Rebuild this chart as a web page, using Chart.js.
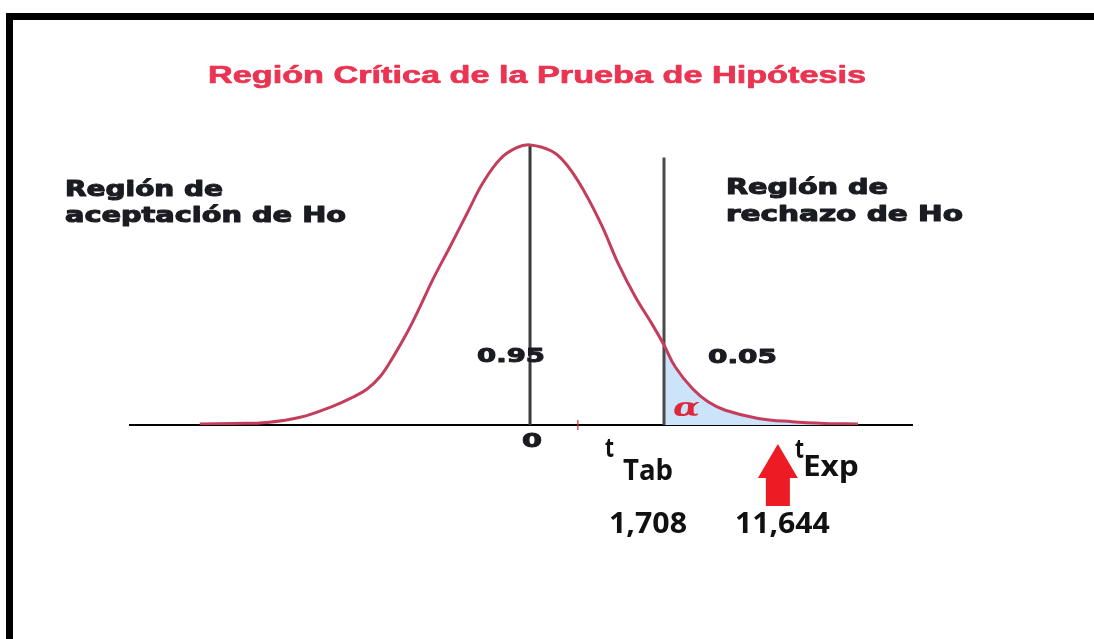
<!DOCTYPE html>
<html>
<head>
<meta charset="utf-8">
<script src="https://cdn.jsdelivr.net/npm/chart.js@4.4.1/dist/chart.umd.min.js"></script>
<style>
  html, body { margin: 0; padding: 0; background: #fff; }
  #wrap { width: 1094px; height: 639px; }
</style>
</head>
<body>
<div id="wrap"><canvas id="c" width="1094" height="639"></canvas></div>
<script>
// ---- data (x in t units, y in relative density) ----
const curveX = [-4.21, -3.79, -3.35, -2.93, -2.51, -2.29, -2.08, -1.91, -1.75, -1.57, -1.40, -1.24, -1.02, -0.80, -0.60, -0.38, -0.17, 0.00,
                0.28, 0.48, 0.70, 0.92, 1.12, 1.34, 1.56, 1.708, 1.85, 2.07, 2.27, 2.49, 2.91, 3.34, 3.76, 4.18];
const curveY = [0.0014, 0.0023, 0.0037, 0.011, 0.027, 0.038, 0.051, 0.069, 0.096, 0.131, 0.169, 0.207, 0.254, 0.302, 0.345, 0.379, 0.395, 0.399,
                0.390, 0.369, 0.331, 0.283, 0.231, 0.183, 0.143, 0.114, 0.083, 0.052, 0.033, 0.021, 0.0094, 0.0047, 0.0023, 0.0014];
const tTab = 1.708;
const tExpLabel = "11,644";
const tTabLabel = "1,708";
const areaLabels = ["0.95", "0.05"];
const centerLine = [0, 0.399];     // x, top of line
const tabLine = [tTab, 0.381];     // x, top of line
const arrowAt = 3.16;              // schematic position of t Exp on the axis
const xRange = [-5.10, 4.87];
const yRange = [0, 0.5];

const curvePts = curveX.map((x, i) => ({ x: x, y: curveY[i] }));
const tailPts = curvePts.filter(p => p.x >= tTab);

function fitText(ctx, text, x, y, font, width, color, align, stroke) {
  ctx.save();
  ctx.font = font;
  ctx.fillStyle = color;
  ctx.strokeStyle = color;
  ctx.textBaseline = 'alphabetic';
  ctx.textAlign = 'left';
  const w = ctx.measureText(text).width;
  const sx = width / w;
  let left = x;
  if (align === 'center') left = x - width / 2;
  ctx.translate(left, y);
  ctx.scale(sx, 1);
  ctx.fillText(text, 0, 0);
  if (stroke) {
    ctx.lineWidth = stroke;
    ctx.lineJoin = 'round';
    ctx.strokeText(text, 0, 0);
  }
  ctx.restore();
}

const decor = {
  id: 'decor',
  afterDraw(chart) {
    const ctx = chart.ctx;
    const xs = chart.scales.x;
    const base = chart.scales.y.getPixelForValue(0);
    // frame
    ctx.save();
    ctx.fillStyle = '#000';
    ctx.fillRect(6, 13, 1094 - 6, 7);
    ctx.fillRect(6, 13, 7, 639 - 13);
    ctx.restore();

    // title
    fitText(ctx, 'Región Crítica de la Prueba de Hipótesis', 208, 83, 'bold 24px "Liberation Sans"', 658, 'rgb(234,52,82)', 'left', 0.7);

    const lab = 'bold 21px "DejaVu Sans"';
    const dark = '#1b1b22';
    fitText(ctx, 'Región de', 65, 196, lab, 158, dark, 'left', 1.1);
    fitText(ctx, 'aceptación de Ho', 65, 222, lab, 281, dark, 'left', 1.1);
    fitText(ctx, 'Región de', 726, 194, lab, 162, dark, 'left', 1.1);
    fitText(ctx, 'rechazo de Ho', 726, 221, lab, 237, dark, 'left', 1.1);

    const num = 'bold 20px "DejaVu Sans"';
    fitText(ctx, areaLabels[0], 477, 362, num, 68, dark, 'left', 1);
    fitText(ctx, areaLabels[1], 708, 363, num, 69, dark, 'left', 1);
    fitText(ctx, '0', xs.getPixelForValue(0) + 2, 447, num, 20, dark, 'center', 1);

    // alpha
    fitText(ctx, 'α', (xs.getPixelForValue(tTab) + xs.getPixelForValue(2.33)) / 2 - 2, 416, 'italic bold 26px "DejaVu Serif"', 27, 'rgb(222,40,62)', 'center');

    // t labels
    const cal = '700 28px "Open Sans"';
    const blk = '#111';
    const xTab = xs.getPixelForValue(tTab);
    fitText(ctx, 't', xTab - 59, 457, '700 26px "Open Sans"', 9, blk);
    fitText(ctx, 'Tab', xTab - 41, 480, cal, 50, blk);
    fitText(ctx, tTabLabel, xTab - 55, 533, cal, 78, blk);

    const xA = xs.getPixelForValue(arrowAt);
    fitText(ctx, 't', xA + 17, 458, '700 26px "Open Sans"', 9, blk);
    fitText(ctx, 'Exp', xA + 25, 476, cal, 56, blk);
    fitText(ctx, tExpLabel, xA - 43, 533, cal, 95, blk);

    // red arrow
    ctx.save();
    ctx.fillStyle = 'rgb(237,28,36)';
    ctx.beginPath();
    ctx.moveTo(xA, base + 19);
    ctx.lineTo(xA + 20, base + 53);
    ctx.lineTo(xA + 12, base + 53);
    ctx.lineTo(xA + 12, base + 81);
    ctx.lineTo(xA - 12, base + 81);
    ctx.lineTo(xA - 12, base + 53);
    ctx.lineTo(xA - 20, base + 53);
    ctx.closePath();
    ctx.fill();
    // small red mark on axis
    ctx.strokeStyle = 'rgb(230,40,50)';
    ctx.lineWidth = 1.2;
    ctx.beginPath();
    const xm = xs.getPixelForValue(0.61);
    ctx.moveTo(xm, base - 5);
    ctx.lineTo(xm, base + 5);
    ctx.stroke();
    ctx.restore();
  }
};

new Chart(document.getElementById('c'), {
  type: 'line',
  data: {
    datasets: [
      {
        data: curvePts,
        borderColor: 'rgb(196,62,92)',
        borderWidth: 3,
        pointRadius: 0,
        fill: false,
        tension: 0.4,
        order: 0
      },
      {
        data: [{ x: centerLine[0], y: 0 }, { x: centerLine[0], y: centerLine[1] }],
        borderColor: '#3a3a3a',
        borderWidth: 3,
        pointRadius: 0,
        fill: false,
        order: 1
      },
      {
        data: [{ x: tabLine[0], y: 0 }, { x: tabLine[0], y: tabLine[1] }],
        borderColor: '#4a4a4a',
        borderWidth: 3,
        pointRadius: 0,
        fill: false,
        order: 1
      },
      {
        data: tailPts,
        borderWidth: 0,
        borderColor: 'rgba(0,0,0,0)',
        backgroundColor: 'rgb(204,228,250)',
        pointRadius: 0,
        fill: 'origin',
        tension: 0.4,
        order: 3
      }
    ]
  },
  options: {
    responsive: false,
    animation: false,
    devicePixelRatio: 1,
    layout: { padding: { left: 130, right: 182, top: 74, bottom: 214 } },
    plugins: { legend: { display: false }, tooltip: { enabled: false }, title: { display: false } },
    scales: {
      x: {
        type: 'linear',
        min: xRange[0], max: xRange[1],
        grid: { display: false, drawTicks: false },
        ticks: { display: false },
        border: { display: true, color: '#000', width: 2 }
      },
      y: {
        min: yRange[0], max: yRange[1],
        display: false
      }
    }
  },
  plugins: [decor]
});
</script>
</body>
</html>
